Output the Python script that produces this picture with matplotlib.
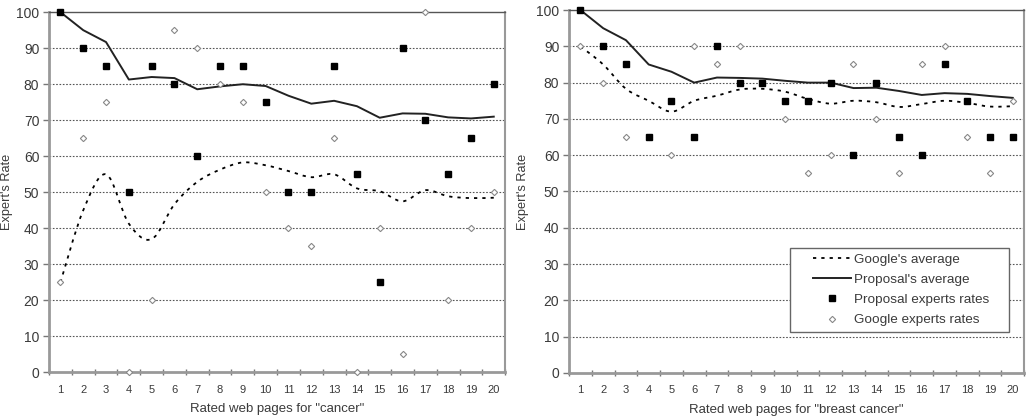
import matplotlib
matplotlib.use("Agg")
import matplotlib.pyplot as plt
from matplotlib.path import Path
from matplotlib.patches import PathPatch, Rectangle
from matplotlib.lines import Line2D

plt.rcParams['font.family'] = ['Liberation Sans', 'DejaVu Sans']

pages = list(range(1, 21))

# web pages for "cancer"
cancer_proposal_rates = [100, 90, 85, 50, 85, 80, 60, 85, 85, 75, 50, 50, 85, 55, 25, 90, 70, 55, 65, 80]
cancer_google_rates = [25, 65, 75, 0, 20, 95, 90, 80, 75, 50, 40, 35, 65, 0, 40, 5, 100, 20, 40, 50]
cancer_proposal_avg = [100, 95, 91.7, 81.3, 82, 81.7, 78.6, 79.4, 80, 79.5,
                       76.8, 74.6, 75.4, 73.9, 70.7, 71.9, 71.8, 70.8, 70.5, 71]
cancer_google_avg = [25, 45, 55, 41.3, 37, 46.7, 52.9, 56.3, 58.3, 57.5,
                     55.9, 54.2, 55, 51.1, 50.3, 47.5, 50.6, 48.9, 48.4, 48.5]

# web pages for "breast cancer"
breast_proposal_rates = [100, 90, 85, 65, 75, 65, 90, 80, 80, 75, 75, 80, 60, 80, 65, 60, 85, 75, 65, 65]
breast_google_rates = [90, 80, 65, 65, 60, 90, 85, 90, 80, 70, 55, 60, 85, 70, 55, 85, 90, 65, 55, 75]
breast_proposal_avg = [100, 95, 91.7, 85, 83, 80, 81.4, 81.3, 81.1, 80.5,
                       80, 80, 78.5, 78.6, 77.7, 76.6, 77.1, 76.9, 76.3, 75.8]
breast_google_avg = [90, 85, 78.3, 75, 72, 75, 76.4, 78.1, 78.3, 77.5,
                     75.5, 74.2, 75, 74.6, 73.3, 74.1, 75, 74.4, 73.4, 73.5]

legend_labels = ["Google's average", "Proposal's average",
                 "Proposal experts rates", "Google experts rates"]

y_ticks = list(range(0, 101, 10))

GOOGLE_DASH = (0, (1.8, 2.8))
TEXT_COLOR = "#3a3a3a"


# Smoothed line (Excel style) as a bezier path in data coordinates
def smooth_path(xs, ys):
    n = len(xs)
    verts = [(xs[0], ys[0])]
    codes = [Path.MOVETO]
    for i in range(n - 1):
        xa, ya = xs[max(i - 1, 0)], ys[max(i - 1, 0)]
        xb, yb = xs[min(i + 2, n - 1)], ys[min(i + 2, n - 1)]
        c1 = (xs[i] + (xs[i + 1] - xa) / 6, ys[i] + (ys[i + 1] - ya) / 6)
        c2 = (xs[i + 1] - (xb - xs[i]) / 6, ys[i + 1] - (yb - ys[i]) / 6)
        verts += [c1, c2, (xs[i + 1], ys[i + 1])]
        codes += [Path.CURVE4] * 3
    return Path(verts, codes)


def draw_panel(ax, proposal_rates, google_rates, proposal_avg, google_avg, xlabel, label_x):
    ax.set_xlim(0.5, 20.5)
    ax.set_ylim(0, 100)

    for y in y_ticks[1:-1]:
        ax.axhline(y, color="#555555", lw=0.8, ls=(0, (1.5, 1.5)), zorder=1)

    ax.add_patch(PathPatch(smooth_path(pages, google_avg), fill=False, color="black",
                           lw=1.3, ls=GOOGLE_DASH, zorder=3))
    ax.plot(pages, proposal_avg, color="#222222", lw=1.4, zorder=3)

    ax.plot(pages, google_rates, ls="none", marker="D", ms=3.2, mfc="white",
            mec="#888888", mew=0.8, zorder=4, clip_on=False)
    ax.plot(pages, proposal_rates, ls="none", marker="s", ms=3.8, mfc="black",
            mec="black", zorder=5, clip_on=False)

    # category ticks between pages, labels at pages
    ax.set_xticks([p + 0.5 for p in range(0, 21)])
    ax.set_xticklabels([])
    ax.tick_params(axis="x", which="major", direction="inout", length=4,
                   color="#777777", width=1)
    ax.set_xticks(pages, minor=True)
    ax.set_xticklabels([str(p) for p in pages], minor=True)
    ax.tick_params(axis="x", which="minor", length=0, pad=9, labelsize=8,
                   labelcolor=TEXT_COLOR)

    ax.set_yticks(y_ticks)
    ax.tick_params(axis="y", direction="out", length=4, color="#777777", width=1,
                   labelsize=10, labelcolor=TEXT_COLOR, pad=3)

    ax.spines["left"].set_color("#999999")
    ax.spines["left"].set_linewidth(2)
    ax.spines["bottom"].set_color("#999999")
    ax.spines["bottom"].set_linewidth(2)
    ax.spines["top"].set_color("#555555")
    ax.spines["top"].set_linewidth(1)
    ax.spines["right"].set_color("#999999")
    ax.spines["right"].set_linewidth(1.5)

    ax.set_xlabel(xlabel, fontsize=9.5, color=TEXT_COLOR, labelpad=6)
    ax.set_ylabel("Expert's Rate", fontsize=9.2, color=TEXT_COLOR)
    ax.yaxis.set_label_coords(label_x, 0.5)


def main():
    fig = plt.figure(figsize=(10.32, 4.19), dpi=100)
    ax1 = fig.add_axes([0.0475, 0.111, 0.442, 0.860])
    ax2 = fig.add_axes([0.5514, 0.110, 0.441, 0.866])

    draw_panel(ax1, cancer_proposal_rates, cancer_google_rates,
               cancer_proposal_avg, cancer_google_avg,
               'Rated web pages for "cancer"', -0.078)
    draw_panel(ax2, breast_proposal_rates, breast_google_rates,
               breast_proposal_avg, breast_google_avg,
               'Rated web pages for "breast cancer"', -0.088)

    # legend box drawn separately (Excel keeps wide margins)
    ax2.add_patch(Rectangle((0.486, 0.113), 0.481, 0.231, transform=ax2.transAxes,
                            facecolor="white", edgecolor="#666666", lw=1, zorder=6))
    handles = [
        Line2D([], [], color="black", lw=1.3, ls=GOOGLE_DASH),
        Line2D([], [], color="#222222", lw=1.4),
        Line2D([], [], ls="none", marker="s", ms=3.8, mfc="black", mec="black"),
        Line2D([], [], ls="none", marker="D", ms=3.2, mfc="white", mec="#888888", mew=0.8),
    ]
    leg = ax2.legend(handles, legend_labels, loc="center left",
                     bbox_to_anchor=(0.536, 0.229), frameon=False,
                     fontsize=9.7, handlelength=2.8, handletextpad=0.25,
                     labelspacing=0.58, borderpad=0, borderaxespad=0)
    leg.set_zorder(7)
    for t in leg.get_texts():
        t.set_color(TEXT_COLOR)

    fig.savefig("out.png", dpi=100)


if __name__ == "__main__":
    main()
